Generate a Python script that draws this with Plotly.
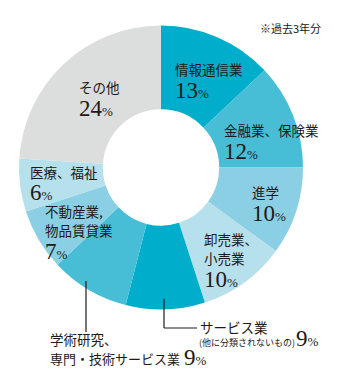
import plotly.graph_objects as go

categories = ["情報通信業", "金融業、保険業", "進学", "卸売業、小売業",
              "サービス業（他に分類されないもの）", "学術研究、専門・技術サービス業",
              "不動産業、物品賃貸業", "医療、福祉", "その他"]
values = [13, 12, 10, 10, 9, 9, 7, 6, 24]
colors = ["#00AECB", "#47BDD6", "#8ACFE3", "#B5E0EC", "#00AECB",
          "#47BDD6", "#8ACFE3", "#B5E0EC", "#DCDDDD"]
label_lines = [["情報通信業"], ["金融業、保険業"], ["進学"], ["卸売業、", "小売業"],
               ["サービス業"], ["学術研究、", "専門・技術サービス業"],
               ["不動産業,", "物品賃貸業"], ["医療、福祉"], ["その他"]]
sub_label = "(他に分類されないもの)"
note = "※過去3年分"

W, H = 356, 384
cx, cy, R = 161, 167.5, 142

fig = go.Figure(go.Pie(
    labels=categories, values=values, sort=False, direction="clockwise",
    rotation=0, hole=0.41, textinfo="none", hoverinfo="label+percent",
    marker=dict(colors=colors, line=dict(width=0)),
    domain=dict(x=[(cx - R) / W, (cx + R) / W], y=[(H - cy - R) / H, (H - cy + R) / H]),
    showlegend=False,
))

JP = "Noto Sans CJK JP"
SER = "Liberation Serif"
TXT = "#231815"

def px(x):
    return x / W

def py(y):
    return 1 - y / H

ann = []

def jp(text, x, y, size=13.5):
    ann.append(dict(text=text, x=px(x), y=py(y), xref="paper", yref="paper",
                    xanchor="left", yanchor="middle", showarrow=False,
                    font=dict(family=JP, size=size, color=TXT)))

def pct(v, x, y):
    ann.append(dict(text=f"{v}<span style='font-size:13px'>%</span>", x=px(x), y=py(y),
                    xref="paper", yref="paper", xanchor="left", yanchor="middle",
                    showarrow=False, font=dict(family=SER, size=23, color=TXT)))

places = [
    (173, [69], 90, 173),
    (222, [130], 151, 222),
    (250, [192], 213, 250),
    (202, [239, 258], 279, 202),
    None,
    None,
    (43, [211, 230], 251, 43),
    (28, [172], 192, 28),
    (77, [87], 108, 77),
]
for i, p in enumerate(places):
    if p is None:
        continue
    x, ys, yp, xp = p
    for line, y in zip(label_lines[i], ys):
        jp(line, x, y)
    pct(values[i], xp, yp)

jp(label_lines[4][0], 198, 327)
jp(sub_label, 197, 342, size=9)
pct(values[4], 294, 338)
jp(label_lines[5][0], 48, 339)
jp(label_lines[5][1], 48, 358, size=13)
pct(values[5], 182, 357)

ann.append(dict(text=note, x=px(323), y=py(28), xref="paper", yref="paper",
                xanchor="right", yanchor="middle", showarrow=False,
                font=dict(family=JP, size=11, color=TXT)))

shapes = [
    dict(type="line", xref="paper", yref="paper", x0=px(164), y0=py(299), x1=px(164), y1=py(328),
         line=dict(color=TXT, width=1.2)),
    dict(type="line", xref="paper", yref="paper", x0=px(164), y0=py(328), x1=px(197), y1=py(328),
         line=dict(color=TXT, width=1.2)),
    dict(type="line", xref="paper", yref="paper", x0=px(86), y0=py(281), x1=px(86), y1=py(332),
         line=dict(color=TXT, width=1.2)),
]

fig.update_layout(width=W, height=H, margin=dict(l=0, r=0, t=0, b=0),
                  paper_bgcolor="white", plot_bgcolor="white",
                  annotations=ann, shapes=shapes)
fig.write_html("out.html", config={"displayModeBar": False},
               post_script="document.body.style.margin='0px';")
